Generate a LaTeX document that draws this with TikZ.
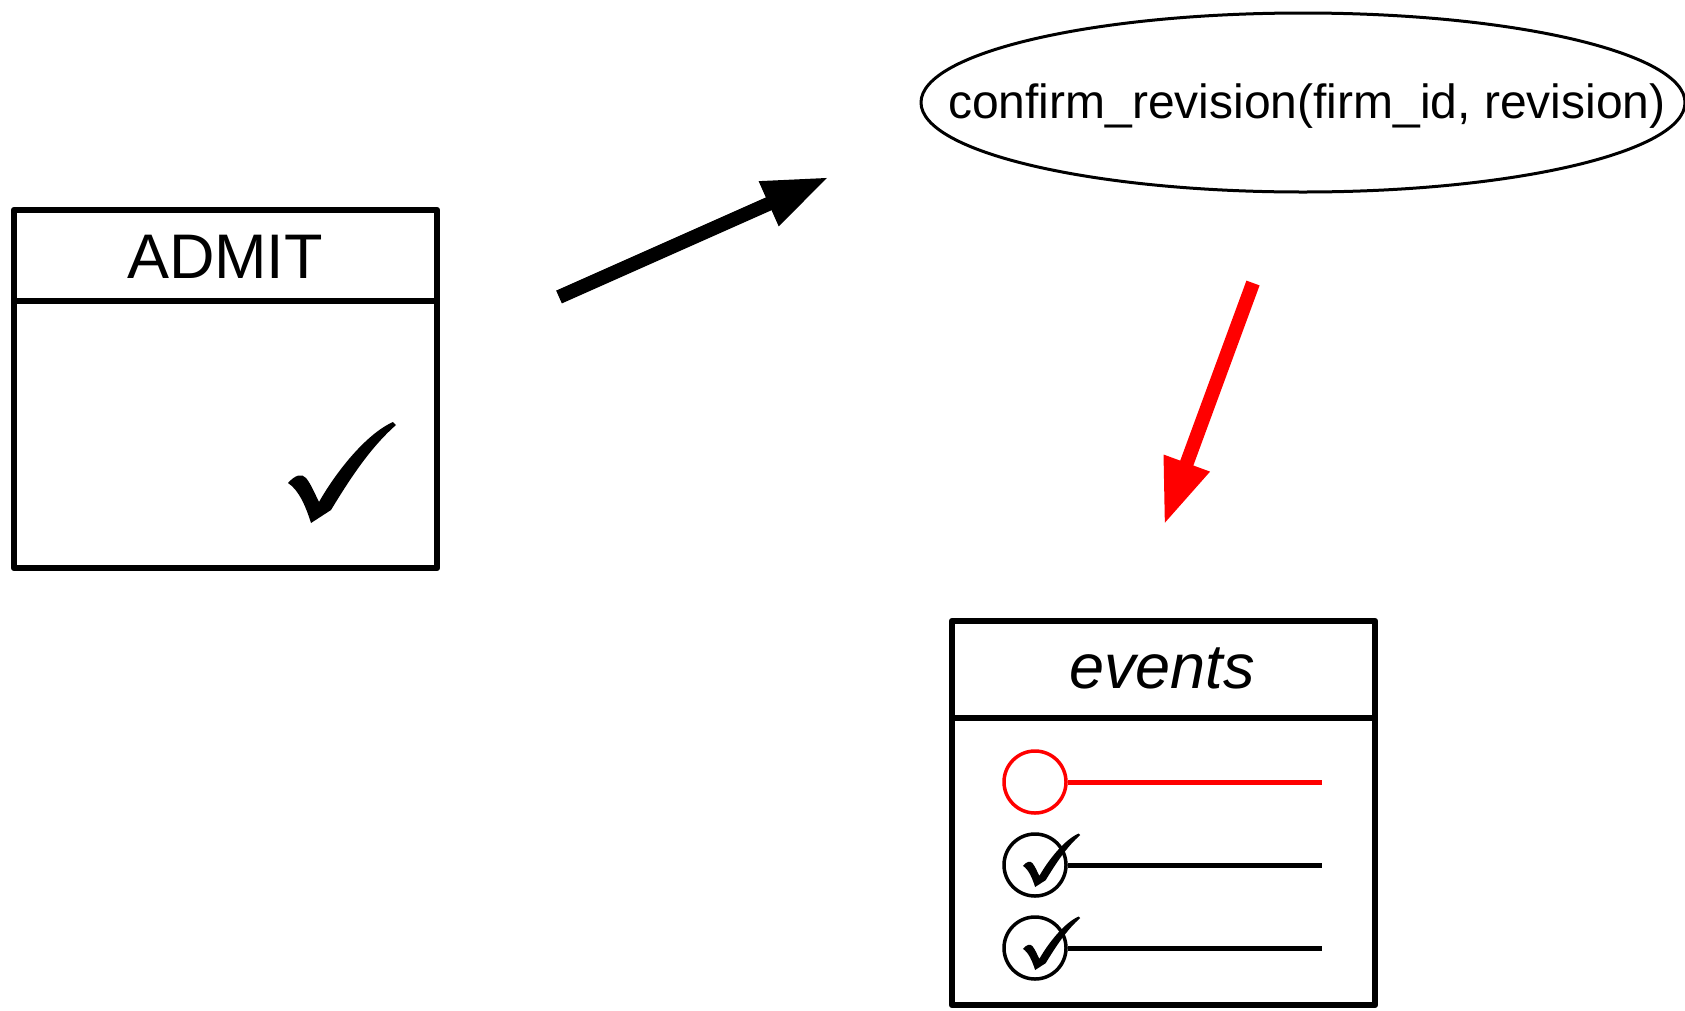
\documentclass[tikz,border=0pt]{standalone}
\usepackage{fontspec}
\setmainfont{Liberation Sans}
\usetikzlibrary{arrows.meta,shapes.geometric}

\tikzset{
	boxline/.style={line width=6.5pt, line join=round},
	bigarrow/.style={line width=14pt, -{Triangle[length=66pt,width=45pt]}},
	dot/.style={circle, minimum size=62pt, inner sep=0pt, line width=3.5pt},
	tickmark/.pic={
		\fill (-53,11) .. controls (-46,3) and (-39,1) .. (-35,6)
			.. controls (-30,12) and (-26,22) .. (-22,30)
			.. controls (-5,0) and (25,-38) .. (52,-50) -- (55,-47)
			.. controls (30,-25) and (10,5) .. (-10,38) -- (-30,51)
			.. controls (-35,35) and (-42,18) .. (-53,11) -- cycle;
	}
}

\begin{document}
\begin{tikzpicture}[x=1pt,y=-1pt]

		\useasboundingbox (0,0) rectangle (1685,1010);

		% define point

		\coordinate (A)  at (559, 297);

		\coordinate (B)  at (829, 177);

		\coordinate (C)  at (1253, 283);

		\coordinate (D)  at (1164, 525);

		% boxes

		\draw[boxline] (14,210) rectangle (437,568);

		\draw[boxline] (14,301) -- (437,301);

		\draw[boxline] (952,621) rectangle (1375,1005);

		\draw[boxline] (952,718) -- (1375,718);

		\node[anchor=base] (admit) at (225,278) {\fontsize{63}{63}\selectfont ADMIT};

		\pic (admitcheck) at (341,472) {tickmark};

		\node[anchor=base] (events) at (1162,688) {\fontsize{63}{63}\selectfont\itshape events};

		% ellipse

		\node[draw, ellipse, line width=3pt, minimum width=764pt, minimum height=179pt, inner sep=0pt] (confirm) at (1303,102.5) {};

		\node[anchor=base] (confirmtext) at (1307,118) {\fontsize{48}{48}\selectfont confirm\_revision(firm\_id, revision)};

		% event rows

		\node[dot, draw=red] (ev1) at (1035,782) {};

		\node[dot, draw=black] (ev2) at (1035,865) {};

		\node[dot, draw=black] (ev3) at (1035,948) {};

		\coordinate (E1) at (1322,782);

		\coordinate (E2) at (1322,865);

		\coordinate (E3) at (1322,948);

		\draw[red, line width=5pt] (ev1.east) -- (E1);

		\draw[line width=5pt] (ev2.east) -- (E2);

		\draw[line width=5pt] (ev3.east) -- (E3);

		\pic[scale=0.53] (check2) at (1051,860) {tickmark};

		\pic[scale=0.53] (check3) at (1051,943) {tickmark};

		% arrows

		\draw[bigarrow] (A) -- (B);

		\draw[bigarrow, red] (C) -- (D);

	\end{tikzpicture}
\end{document}
